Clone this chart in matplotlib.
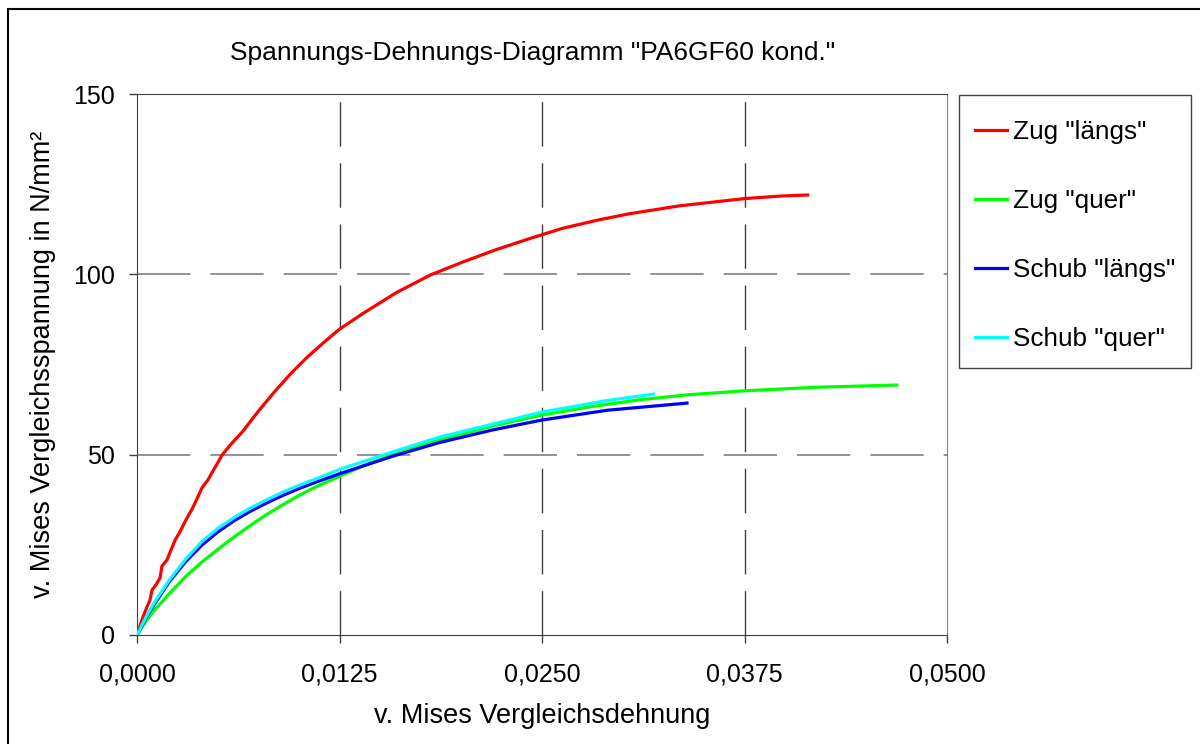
import numpy as np
import matplotlib
matplotlib.use("Agg")
import matplotlib.pyplot as plt
from matplotlib.patches import Rectangle

plt.rcParams['font.family'] = ['Liberation Sans', 'DejaVu Sans']
plt.rcParams['font.size'] = 18

# Zug "längs"
zug_l_eps = [0, 0.000185, 0.00037, 0.00062, 0.0008, 0.00093, 0.00117, 0.00142, 0.00154,
             0.00185, 0.0021, 0.00235, 0.00265, 0.00302, 0.0034, 0.0037, 0.00401, 0.00438,
             0.00469, 0.00494, 0.00525, 0.0058, 0.0065, 0.0075, 0.0085, 0.0095, 0.0105,
             0.0115, 0.0125, 0.014, 0.016, 0.0181, 0.0201, 0.0222, 0.0243, 0.0263, 0.0284,
             0.0304, 0.0335, 0.0375, 0.0397, 0.0414]
zug_l_sig = [0, 2.5, 5.0, 7.8, 9.7, 12.5, 13.9, 15.8, 19.1,
             20.8, 23.6, 26.3, 28.6, 31.9, 34.9, 37.7, 40.8, 43.0,
             45.5, 47.4, 49.9, 52.9, 56.3, 62.1, 67.5, 72.5, 77.0,
             81.0, 84.8, 89.3, 94.9, 99.8, 103.4, 106.9, 110.0, 112.8, 115.0,
             116.8, 119.0, 121.0, 121.7, 122.0]

# Zug "quer"
zug_q_eps = [0, 0.0005, 0.001, 0.002, 0.003, 0.004, 0.005, 0.006, 0.007, 0.008, 0.009,
             0.010, 0.011, 0.0125, 0.014, 0.0158, 0.0187, 0.022, 0.025, 0.028, 0.031,
             0.034, 0.0375, 0.042, 0.0469]
zug_q_sig = [0, 3.5, 6.5, 11.5, 16.2, 20.2, 23.8, 27.2, 30.4, 33.4, 36.1,
             38.7, 41.0, 44.0, 47.0, 50.0, 54.1, 58.0, 61.0, 63.3, 65.2,
             66.6, 67.7, 68.7, 69.3]

# Schub "längs"
schub_l_eps = [0, 0.0005, 0.001, 0.002, 0.003, 0.004, 0.005, 0.006, 0.007, 0.008, 0.009,
               0.010, 0.011, 0.0125, 0.0158, 0.0187, 0.022, 0.025, 0.029, 0.03395]
schub_l_sig = [0, 4.2, 8.0, 14.8, 20.3, 24.9, 28.6, 31.7, 34.3, 36.6, 38.7,
               40.6, 42.3, 44.7, 49.6, 53.4, 56.9, 59.6, 62.3, 64.3]

# Schub "quer"
schub_q_eps = [0, 0.0005, 0.001, 0.002, 0.003, 0.004, 0.005, 0.006, 0.007, 0.008, 0.009,
               0.010, 0.011, 0.0125, 0.0158, 0.0187, 0.025, 0.029, 0.0319]
schub_q_sig = [0, 4.5, 8.5, 15.3, 21.0, 25.9, 29.6, 32.6, 35.2, 37.5, 39.6,
               41.5, 43.2, 45.9, 50.8, 54.9, 61.8, 65.0, 66.8]

xticks = [0, 0.0125, 0.025, 0.0375, 0.05]
yticks = [0, 50, 100, 150]

fig = plt.figure(figsize=(12, 7.44), dpi=100)
ax = fig.add_axes([137/1200, 109/744, 810/1200, 541/744])

ax.plot(zug_l_eps, zug_l_sig, color='#ff0000', lw=2.3, label='Zug "längs"', zorder=3)
ax.plot(zug_q_eps, zug_q_sig, color='#00ff00', lw=2.3, label='Zug "quer"', zorder=3)
ax.plot(schub_l_eps, schub_l_sig, color='#0000ff', lw=2.3, label='Schub "längs"', zorder=4)
ax.plot(schub_q_eps, schub_q_sig, color='#00ffff', lw=2.3, label='Schub "quer"', zorder=5)

ax.set_xlim(0, 0.05)
ax.set_ylim(0, 150)
ax.set_xticks(xticks)
ax.set_yticks(yticks)
ax.set_xticklabels([f"{v:.4f}".replace('.', ',') for v in xticks])
ax.set_yticklabels([str(v) for v in yticks])
ax.tick_params(direction='out', length=6, width=1, color='#404040', labelsize=18)
ax.tick_params(axis='x', pad=14)
ax.tick_params(axis='y', pad=10)

# dashed grid: vertical dark, horizontal grey
for xv in xticks[1:-1]:
    ax.axvline(xv, color='#404040', lw=1, linestyle=(0, (32, 12)), zorder=1)
for yv in yticks[1:-1]:
    ax.axhline(yv, color='#808080', lw=1.2, linestyle=(0, (32, 12)), zorder=1)

for side in ['left', 'bottom', 'top']:
    ax.spines[side].set_color('#404040')
ax.spines['right'].set_color('#808080')

ax.set_xlabel('v. Mises Vergleichsdehnung', fontsize=19.5, labelpad=12)
ax.set_ylabel('v. Mises Vergleichsspannung in N/mm²', fontsize=19.5, labelpad=12)
fig.text(533/1200, 1 - 53/744, 'Spannungs-Dehnungs-Diagramm "PA6GF60 kond."',
         ha='center', va='center', fontsize=19)

# legend box drawn separately, entries placed inside it
fig.patches.append(Rectangle((959/1200, 1 - 368/744), 232/1200, 273/744,
                             transform=fig.transFigure, fill=False,
                             edgecolor='#404040', lw=1))
leg = fig.legend(loc='upper left', bbox_to_anchor=(975/1200, 1 - 120/744),
                 borderaxespad=0, borderpad=0, frameon=False, fontsize=18.8,
                 handlelength=1.23, handletextpad=0.23, labelspacing=1.72)

# outer border of the chart area
fig.patches.append(Rectangle((8/1200, -0.1), 2, 1.1 - 9/744, transform=fig.transFigure,
                             fill=False, edgecolor='black', lw=1.5))

plt.savefig('out.png', dpi=100)
